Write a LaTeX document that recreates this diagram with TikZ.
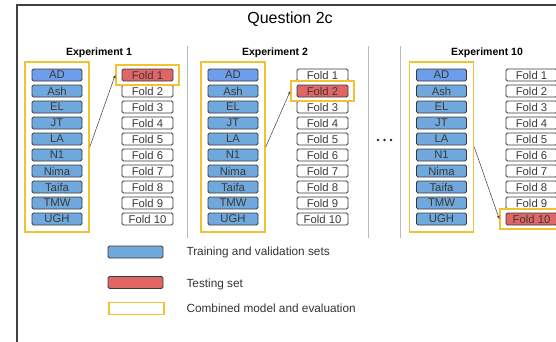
\documentclass[tikz,border=0pt]{standalone}
\usepackage{fontspec}
\setmainfont{Liberation Sans}
\usetikzlibrary{fit,arrows.meta}

\definecolor{trainblue}{HTML}{6FA8DC}
\definecolor{adblue}{HTML}{6D9EEB}
\definecolor{testred}{HTML}{E06666}
\definecolor{combyellow}{HTML}{F1C232}
\definecolor{boxline}{HTML}{3A3A3A}

\begin{document}
\begin{tikzpicture}[x=1pt,y=-1pt,
	setbox/.style={draw=boxline, line width=0.9pt, rounded corners=1.5pt,
		minimum width=50pt, minimum height=12pt, inner sep=0pt,
		font=\fontsize{11.3}{11}\selectfont, text=boxline},
	combined/.style={draw=combyellow, line width=1.6pt},
	divider/.style={draw=gray!55, line width=0.9pt},
	link/.style={draw=boxline, line width=0.5pt, -{Stealth[length=3.5pt,width=2.5pt]}},
	legendtext/.style={anchor=west, font=\fontsize{11.8}{13}\selectfont, text=black!80}]

	\useasboundingbox (0,0) rectangle (556,341);
	\draw[line width=1.4pt, draw=black!75] (17,5) rectangle (600,400);

	\node (title) at (290,19) {\fontsize{16}{19}\selectfont Question 2c};

	% one column pair per experiment: label x / names x / folds x / test fold
	\foreach \e/\lx/\nx/\fx/\t in {1/99/57/147.5/1, 2/275/233/322.5/2, 10/487/441.5/531.5/10}{
		\node[font=\bfseries\fontsize{10.5}{12}\selectfont] (exp\e) at (\lx,53) {Experiment \e};
		\foreach \nm [count=\i] in {AD,Ash,EL,JT,LA,N1,Nima,Taifa,TMW,UGH}{
			\ifnum\i=1 \def\nfill{adblue}\else\def\nfill{trainblue}\fi
			\node[setbox, fill=\nfill] (n\e-\i) at (\nx,59+16*\i) {\nm};
		}
		\foreach \i in {1,...,10}{
			\ifnum\i=\t \def\ffill{testred}\else\def\ffill{white}\fi
			\node[setbox, fill=\ffill, minimum width=51pt] (f\e-\i) at (\fx,59+16*\i) {Fold \i};
		}
		\node[combined, fit=(n\e-1)(n\e-10), inner xsep=6.5pt, inner ysep=6.5pt] (nbox\e) {};
		\node[combined, fit=(f\e-\t), inner xsep=5.5pt, inner ysep=3.5pt] (tbox\e) {};
		\draw[link] (nbox\e.east) -- (tbox\e.west);
	}

	\draw[divider] (187,46) -- (187,238);
	\draw[divider] (368,46) -- (368,238);
	\draw[divider] (400,46) -- (400,238);
	\foreach \d in {378,384.5,391}{
		\fill[black!85] (\d,140) circle (1.4pt);
	}

	% legend
	\node[setbox, fill=trainblue, minimum width=55pt] (lgtrain) at (135.5,252) {};
	\node[setbox, fill=testred, minimum width=55pt] (lgtest) at (135.5,282.5) {};
	\node[combined, minimum width=55pt, minimum height=12pt, inner sep=0pt] (lgcomb) at (136.5,308.5) {};
	\node[legendtext] (lgtraintxt) at (183,252) {Training and validation sets};
	\node[legendtext] (lgtesttxt) at (183,284) {Testing set};
	\node[legendtext] (lgcombtxt) at (183,308) {Combined model and evaluation};

\end{tikzpicture}
\end{document}
